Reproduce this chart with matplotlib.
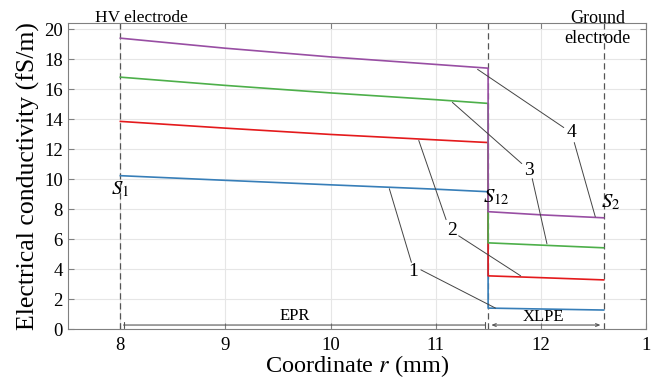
import matplotlib.pyplot as plt
import numpy as np

plt.rcParams['font.family'] = 'Liberation Serif'
plt.rcParams['mathtext.fontset'] = 'stix'

# interfaces (mm)
r_s1 = 8.0
r_s12 = 11.5
r_s2 = 12.6

# EPR layer: conductivity (fS/m)
r_epr = [8.0, 9.0, 10.0, 11.0, 11.5]
epr_1 = [10.23, 9.92, 9.62, 9.33, 9.16]
epr_2 = [13.85, 13.40, 12.98, 12.62, 12.44]
epr_3 = [16.80, 16.25, 15.75, 15.30, 15.05]
epr_4 = [19.40, 18.73, 18.15, 17.65, 17.40]

# XLPE layer
r_xlpe = [11.5, 12.0, 12.6]
xlpe_1 = [1.40, 1.34, 1.27]
xlpe_2 = [3.55, 3.43, 3.28]
xlpe_3 = [5.75, 5.60, 5.42]
xlpe_4 = [7.83, 7.62, 7.42]

colors = ['#377eb8', '#e41a1c', '#4daf4a', '#984ea3']
epr_all = [epr_1, epr_2, epr_3, epr_4]
xlpe_all = [xlpe_1, xlpe_2, xlpe_3, xlpe_4]

# curve labels and leader lines
label_pos = [(10.79, 3.81), (11.16, 6.56), (11.89, 10.57), (12.29, 13.11)]
leaders = [
    [((10.77, 4.45), (10.56, 9.36)), ((10.86, 3.95), (11.57, 1.40))],
    [((11.10, 7.30), (10.84, 12.58)), ((11.22, 6.22), (11.81, 3.55))],
    [((11.82, 11.04), (11.16, 15.12)), ((11.92, 10.03), (12.06, 5.69))],
    [((12.22, 13.44), (11.40, 17.32)), ((12.32, 12.44), (12.52, 7.49))],
]

fig = plt.figure(figsize=(6.65, 3.8), dpi=100)
ax = fig.add_axes([0.102, 0.134, 0.869, 0.805])

for i in range(4):
    r = r_epr + r_xlpe
    s = epr_all[i] + xlpe_all[i]
    ax.plot(r, s, color=colors[i], lw=1.2, zorder=3)

for rv in [r_s1, r_s12, r_s2]:
    ax.plot([rv, rv], [0, 20.5], color='#555555', ls=(0, (5, 3)), lw=0.9, zorder=2, clip_on=False)

for i, (lx, ly) in enumerate(label_pos):
    ax.text(lx, ly, str(i + 1), fontsize=14, ha='center', va='center', zorder=5)
    for start, end in leaders[i]:
        ax.annotate('', xy=end, xytext=start,
                    arrowprops=dict(arrowstyle='-', color='#444444', lw=0.7,
                                    shrinkA=0, shrinkB=0))

# layer dimension lines
ax.annotate('', xy=(r_s1 + 0.03, 0.27), xytext=(r_s12 - 0.03, 0.27),
            arrowprops=dict(arrowstyle='|-|,widthA=0.2,widthB=0.2', color='#555555', lw=0.8,
                            shrinkA=0, shrinkB=0))
ax.annotate('', xy=(r_s12 + 0.03, 0.27), xytext=(r_s2 - 0.03, 0.27),
            arrowprops=dict(arrowstyle='<->,head_length=0.25,head_width=0.1', color='#555555', lw=0.8,
                            shrinkA=0, shrinkB=0))
ax.text(9.66, 0.85, 'EPR', fontsize=12, ha='center', va='center')
ax.text(12.03, 0.8, 'XLPE', fontsize=12, ha='center', va='center')

ax.text(r_s1, 9.3, '$S_1$', fontsize=15, ha='center', va='center')
ax.text(r_s12 + 0.08, 8.75, '$S_{12}$', fontsize=15, ha='center', va='center')
ax.text(r_s2 + 0.07, 8.45, '$S_2$', fontsize=15, ha='center', va='center')

ax.text(8.2, 20.75, 'HV electrode', fontsize=12.5, ha='center', va='center', clip_on=False)
ax.text(12.54, 20.05, 'Ground\nelectrode', fontsize=13, ha='center', va='center',
        linespacing=1.2, clip_on=False, zorder=6)

ax.set_xlim(7.5, 13)
ax.set_ylim(0, 20.4)
ax.set_xticks([8, 9, 10, 11, 12, 13])
ax.set_xticklabels(['8', '9', '10', '11', '12', '1'])
ax.set_yticks(np.arange(0, 21, 2))
ax.tick_params(direction='in', top=True, right=True, labelsize=13.5, length=4, color='#808080')
ax.tick_params(axis='x', pad=6)
ax.grid(True, color='#e6e6e6', lw=0.8)
ax.set_axisbelow(True)
for sp in ax.spines.values():
    sp.set_color('#808080')

ax.set_xlabel('Coordinate $r$ (mm)', fontsize=17.5, labelpad=-1)
ax.set_ylabel('Electrical conductivity (fS/m)', fontsize=18.5, labelpad=3)

fig.savefig('out.png', dpi=100)
